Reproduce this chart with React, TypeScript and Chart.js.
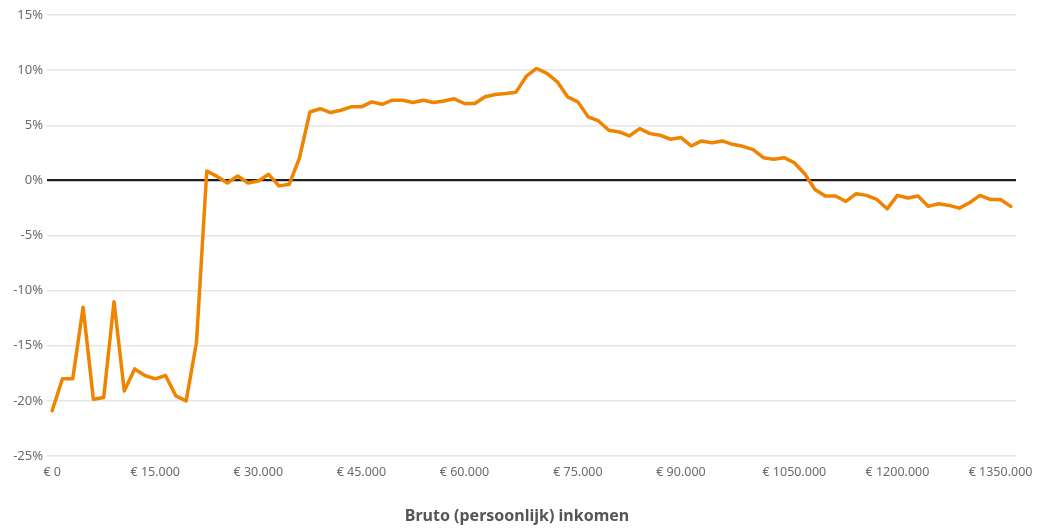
import React, { useEffect, useRef } from "react";
import { Chart, registerables } from "chart.js";

Chart.register(...registerables);

// Income brackets (euro), one per data point
const incomeCategories = [
  0, 1500, 3000, 4500, 6000, 7500, 9000, 10500, 12000, 13500,
  15000, 16500, 18000, 19500, 21000, 22500, 24000, 25500, 27000, 28500,
  30000, 31500, 33000, 34500, 36000, 37500, 39000, 40500, 42000, 43500,
  45000, 46500, 48000, 49500, 51000, 52500, 54000, 55500, 57000, 58500,
  60000, 61500, 63000, 64500, 66000, 67500, 69000, 70500, 72000, 73500,
  75000, 76500, 78000, 79500, 81000, 82500, 84000, 85500, 87000, 88500,
  90000, 91500, 93000, 94500, 96000, 97500, 99000, 100500, 102000, 103500,
  105000, 106500, 108000, 109500, 111000, 112500, 114000, 115500, 117000, 118500,
  120000, 121500, 123000, 124500, 126000, 127500, 129000, 130500, 132000, 133500,
  135000, 136500, 138000, 139500,
];

// Percentage change per bracket
const changeValues = [
  -20.9, -18.0, -18.0, -11.5, -19.85, -19.7, -11.0, -19.1, -17.1, -17.7,
  -18.0, -17.7, -19.55, -20.0, -14.7, 0.85, 0.36, -0.24, 0.39, -0.24,
  -0.06, 0.55, -0.5, -0.36, 2.06, 6.2, 6.5, 6.15, 6.36, 6.67,
  6.67, 7.12, 6.9, 7.27, 7.27, 7.06, 7.27, 7.06, 7.2, 7.4,
  6.97, 6.97, 7.58, 7.79, 7.88, 8.0, 9.45, 10.15, 9.7, 8.94,
  7.58, 7.12, 5.76, 5.39, 4.55, 4.39, 4.03, 4.7, 4.24, 4.09,
  3.73, 3.88, 3.12, 3.58, 3.42, 3.58, 3.27, 3.09, 2.79, 2.06,
  1.91, 2.06, 1.6, 0.6, -0.82, -1.42, -1.42, -1.91, -1.21, -1.36,
  -1.73, -2.58, -1.36, -1.6, -1.42, -2.36, -2.12, -2.27, -2.52, -2.03,
  -1.36, -1.73, -1.73, -2.36,
];

// X tick labels (as printed in the original) and the brackets they sit under
const xTickLabels = [
  "€ 0", "€ 15.000", "€ 30.000", "€ 45.000", "€ 60.000",
  "€ 75.000", "€ 90.000", "€ 1050.000", "€ 1200.000", "€ 1350.000",
];
const xTickIndices = [0, 10, 20, 30, 40, 51, 61, 72, 82, 92];

const yMin = -25;
const yMax = 15;
const yStep = 5;

const xTitle = "Bruto (persoonlijk) inkomen";

export default function App() {
  const ref = useRef<HTMLCanvasElement | null>(null);

  useEffect(() => {
    if (!ref.current) return;
    const tickMap: Record<number, string> = {};
    xTickIndices.forEach((idx, i) => (tickMap[idx] = xTickLabels[i]));

    const titlePlugin = {
      id: "xTitle",
      afterDraw(chart: any) {
        const ctx = chart.ctx;
        ctx.save();
        ctx.font = "bold 16px 'Noto Sans', sans-serif";
        ctx.fillStyle = "#555555";
        ctx.textAlign = "center";
        ctx.textBaseline = "middle";
        ctx.fillText(xTitle, 517, 516);
        ctx.restore();
      },
    };

    const chart = new Chart(ref.current, {
      type: "line",
      data: {
        labels: incomeCategories,
        datasets: [
          {
            data: changeValues,
            borderColor: "#F08300",
            borderWidth: 3.5,
            borderJoinStyle: "round",
            borderCapStyle: "round",
            pointRadius: 0,
            tension: 0,
            fill: false,
          },
        ],
      },
      options: {
        animation: false,
        responsive: false,
        maintainAspectRatio: false,
        layout: { padding: { top: 15, right: 33, left: 0, bottom: 0 } },
        plugins: {
          legend: { display: false },
          tooltip: { enabled: false },
        },
        scales: {
          x: {
            type: "category",
            offset: true,
            grid: { display: false, drawTicks: false },
            border: { display: false },
            ticks: {
              autoSkip: false,
              maxRotation: 0,
              padding: 9,
              color: "#6b6b6b",
              font: { family: "'Noto Sans', sans-serif", size: 12.5 },
              callback: (_v: any, idx: number) => tickMap[idx] ?? "",
            },
            afterFit: (scale: any) => {
              scale.height = 73;
            },
          },
          y: {
            min: yMin,
            max: yMax,
            grid: {
              drawTicks: false,
              color: (c: any) => (c.tick && c.tick.value === 0 ? "#1e1e1e" : "#e6e6e6"),
              lineWidth: (c: any) => (c.tick && c.tick.value === 0 ? 2.2 : 1.5),
            },
            border: { display: false },
            ticks: {
              stepSize: yStep,
              padding: 4,
              color: "#6b6b6b",
              font: { family: "'Noto Sans', sans-serif", size: 13 },
              callback: (v: any) => `${v}%`,
            },
            afterFit: (scale: any) => {
              scale.width = 47;
            },
          },
        },
      },
      plugins: [titlePlugin],
    });
    return () => chart.destroy();
  }, []);

  return (
    <div style={{ position: "absolute", left: 0, top: 0, width: 1049, height: 529, background: "#fff" }}>
      <canvas ref={ref} width={1049} height={529} style={{ width: 1049, height: 529 }} />
    </div>
  );
}
